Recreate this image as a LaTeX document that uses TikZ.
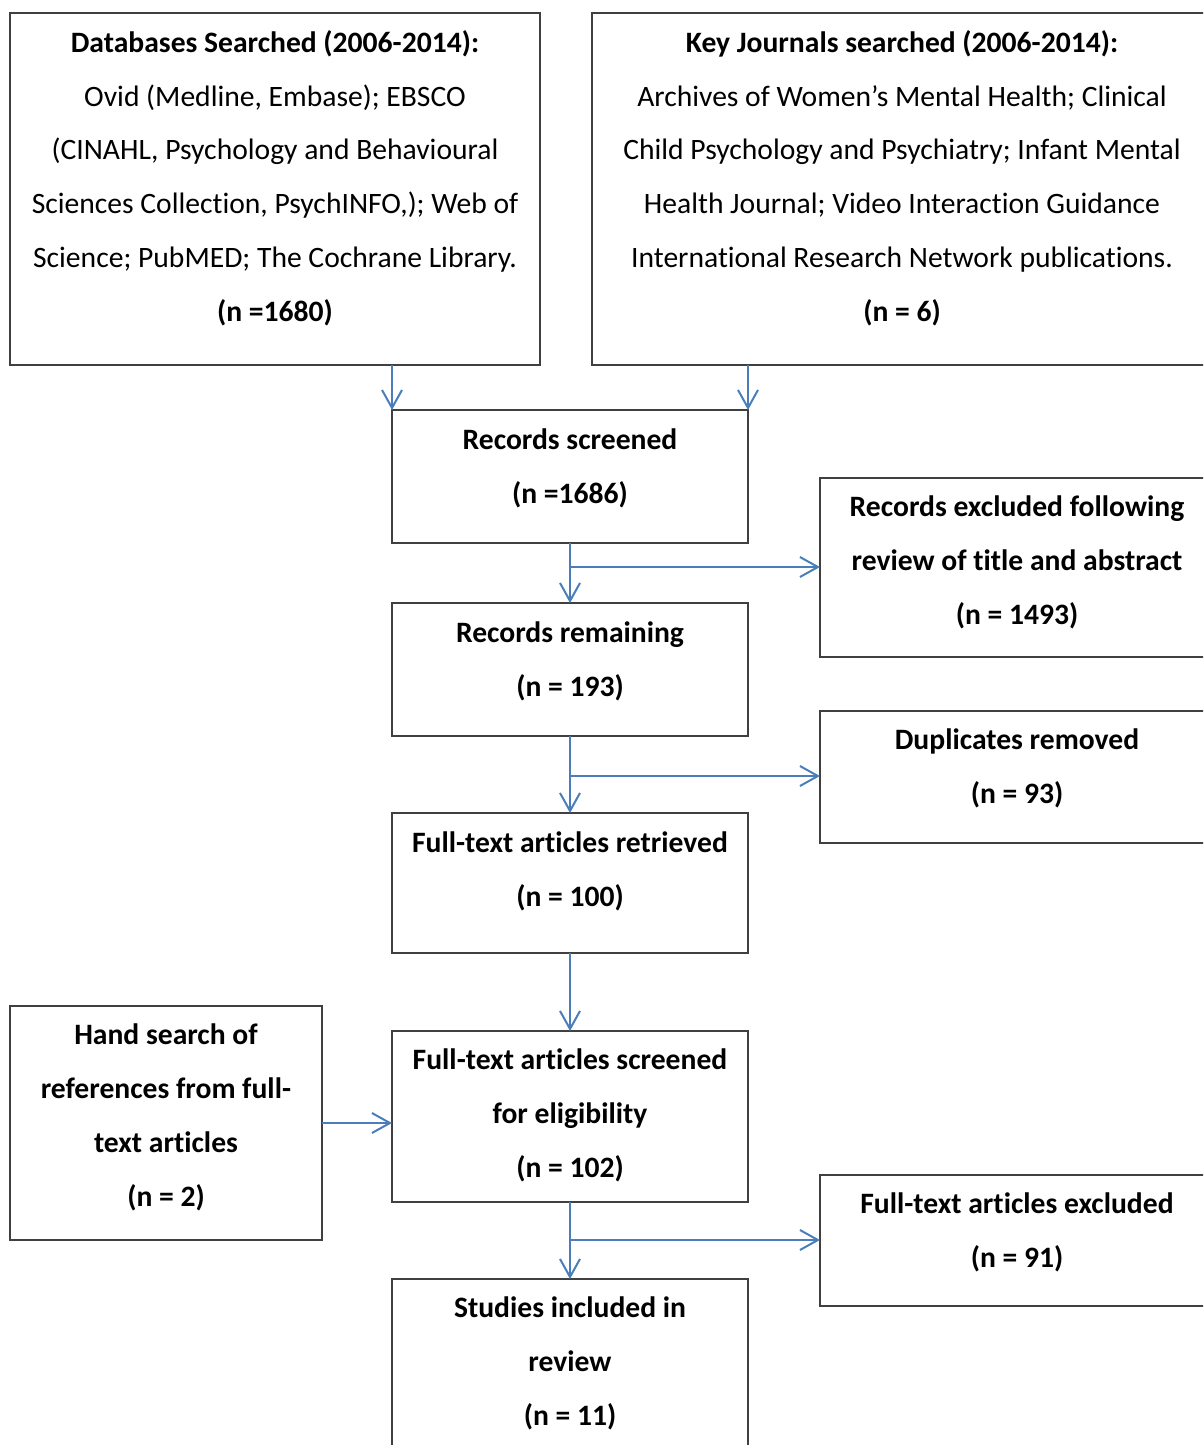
\documentclass[tikz,border=0pt]{standalone}
\usepackage{fontspec}
\setmainfont{Carlito}[Ligatures={NoCommon}]
\usetikzlibrary{arrows.meta}
\definecolor{arr}{HTML}{4A7EBB}
\definecolor{brd}{HTML}{404040}
\tikzset{
  box/.style={draw=brd, line width=1.5pt, inner sep=0pt},
  txt/.style={align=center, inner sep=0pt, font=\fontsize{29.6}{53.7}\selectfont, anchor=base},
  flow/.style={draw=arr, line width=2pt, -{Straight Barb[length=18pt,width=20pt,line width=2pt]}}
}
\begin{document}
\begin{tikzpicture}[x=1pt,y=-1pt]
\useasboundingbox (0,0) rectangle (1203,1445);
\clip (0,0) rectangle (1203,1445);
% boxes
\path[box] (10,13) rectangle (540,365) node[pos=0.5] (db) {};
\path[box] (592,13) rectangle (1213,365) node[pos=0.5] (kj) {};
\path[box] (392,410) rectangle (748,543) node[pos=0.5] (rs) {};
\path[box] (820,478) rectangle (1214,657) node[pos=0.5] (ex1) {};
\path[box] (392,603) rectangle (748,736) node[pos=0.5] (rr) {};
\path[box] (820,711) rectangle (1214,843) node[pos=0.5] (dup) {};
\path[box] (392,813) rectangle (748,953) node[pos=0.5] (ftr) {};
\path[box] (10,1006) rectangle (322,1240) node[pos=0.5] (hs) {};
\path[box] (392,1031) rectangle (748,1202) node[pos=0.5] (fts) {};
\path[box] (820,1175) rectangle (1214,1306) node[pos=0.5] (fte) {};
\path[box] (392,1279) rectangle (748,1470) node[pos=0.5] (si) {};
% texts (base = baseline of last line)
\node[txt] (dbt) at (275,321) {\textbf{Databases Searched (2006-2014):}\\ Ovid (Medline, Embase); EBSCO\\ (CINAHL, Psychology and Behavioural\\ Sciences Collection, PsychINFO,); Web of\\ Science; PubMED; The Cochrane Library.\\ \textbf{(n =1680)}};
\node[txt] (kjt) at (902,321) {\textbf{Key Journals searched (2006-2014):}\\ Archives of Women’s Mental Health; Clinical\\ Child Psychology and Psychiatry; Infant Mental\\ Health Journal; Video Interaction Guidance\\ International Research Network publications.\\ \textbf{(n = 6)}};
\node[txt] (rst) at (570,503) {\textbf{Records screened}\\ \textbf{(n =1686)}};
\node[txt] (ex1t) at (1017,624) {\textbf{Records excluded following}\\ \textbf{review of title and abstract}\\ \textbf{(n = 1493)}};
\node[txt] (rrt) at (570,696) {\textbf{Records remaining}\\ \textbf{(n = 193)}};
\node[txt] (dupt) at (1017,803) {\textbf{Duplicates removed}\\ \textbf{(n = 93)}};
\node[txt] (ftrt) at (570,906) {\textbf{Full-text articles retrieved}\\ \textbf{(n = 100)}};
\node[txt] (hst) at (166,1206) {\textbf{Hand search of}\\ \textbf{references from full-}\\ \textbf{text articles}\\ \textbf{(n = 2)}};
\node[txt] (ftst) at (570,1177) {\textbf{Full-text articles screened}\\ \textbf{for eligibility}\\ \textbf{(n = 102)}};
\node[txt] (ftet) at (1017,1267) {\textbf{Full-text articles excluded}\\ \textbf{(n = 91)}};
\node[txt] (sit) at (570,1425) {\textbf{Studies included in}\\ \textbf{review}\\ \textbf{(n = 11)}};
% connectors
\coordinate (a1) at (392,365); \coordinate (a1e) at (392,410);
\coordinate (a2) at (748,365); \coordinate (a2e) at (748,410);
\draw[flow] (a1) -- (a1e);
\draw[flow] (a2) -- (a2e);
\coordinate (b1) at (570,543); \coordinate (b1e) at (570,603); \coordinate (b1m) at (570,567);
\draw[flow] (b1) -- (b1e);
\draw[flow] (b1m) -- (820,567);
\coordinate (c1) at (570,736); \coordinate (c1e) at (570,813); \coordinate (c1m) at (570,776);
\draw[flow] (c1) -- (c1e);
\draw[flow] (c1m) -- (820,776);
\coordinate (d1) at (570,953); \coordinate (d1e) at (570,1031);
\draw[flow] (d1) -- (d1e);
\coordinate (e1) at (322,1123); \coordinate (e1e) at (392,1123);
\draw[flow] (e1) -- (e1e);
\coordinate (f1) at (570,1202); \coordinate (f1e) at (570,1279); \coordinate (f1m) at (570,1240);
\draw[flow] (f1) -- (f1e);
\draw[flow] (f1m) -- (820,1240);
\end{tikzpicture}
\end{document}
